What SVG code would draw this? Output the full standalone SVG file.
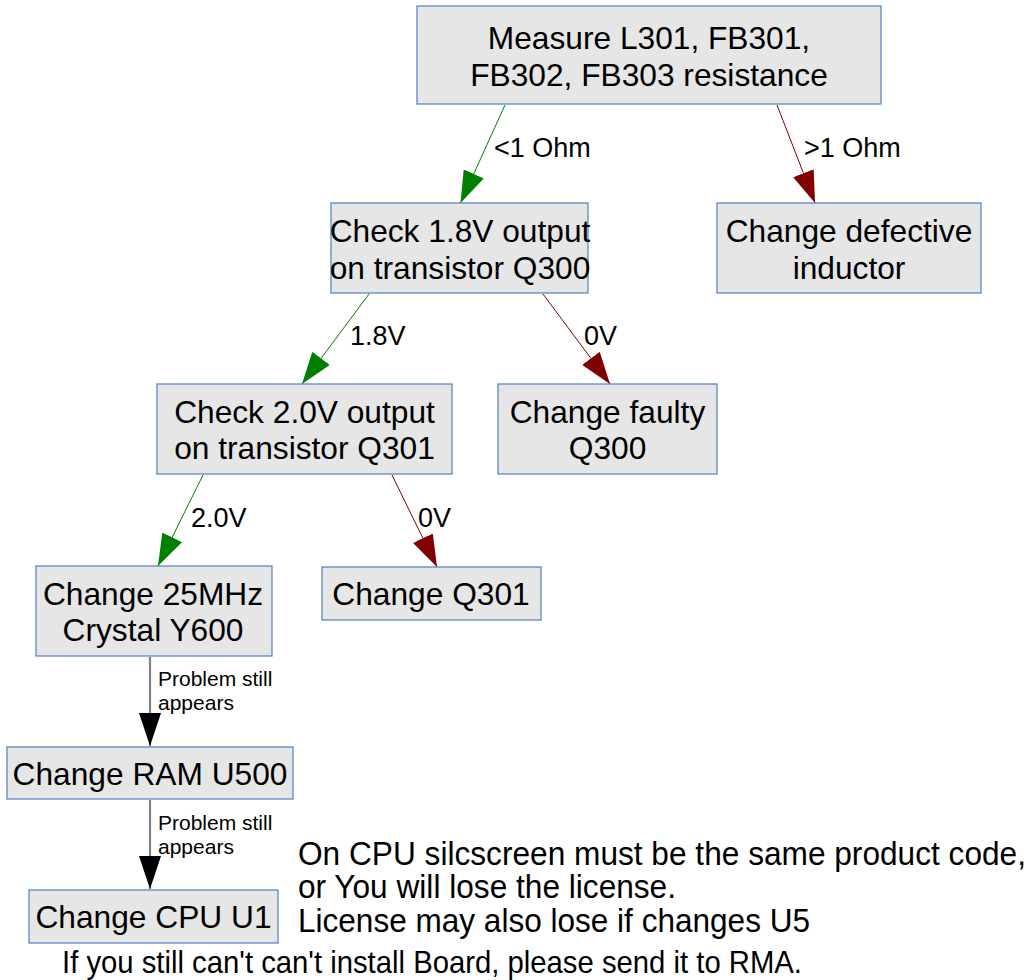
<svg xmlns="http://www.w3.org/2000/svg" width="1036" height="980" viewBox="0 0 1036 980">
<style>
.box{fill:#e6e6e6;stroke:#4f7fbe;stroke-width:1.2}
.t{font-family:"Liberation Sans",Arial,sans-serif;font-size:31.7px;fill:#000;text-anchor:middle}
.lbl{font-family:"Liberation Sans",Arial,sans-serif;font-size:27px;fill:#000}
.sl{font-family:"Liberation Sans",Arial,sans-serif;font-size:21px;fill:#000}
.note{font-family:"Liberation Sans",Arial,sans-serif;font-size:34px;fill:#000}
.note2{font-family:"Liberation Sans",Arial,sans-serif;font-size:32px;fill:#000}
.g{stroke:#008000;stroke-width:1;fill:none}
.r{stroke:#800000;stroke-width:1;fill:none}
.k{stroke:#808080;stroke-width:2.2;fill:none}
</style>
<defs>
<marker id="ag" markerUnits="userSpaceOnUse" viewBox="0 0 32 22" refX="32" refY="11" markerWidth="32" markerHeight="22" orient="auto"><path d="M0,0 L32,11 L0,22 z" fill="#008000"/></marker>
<marker id="ar" markerUnits="userSpaceOnUse" viewBox="0 0 32 22" refX="32" refY="11" markerWidth="32" markerHeight="22" orient="auto"><path d="M0,0 L32,11 L0,22 z" fill="#800000"/></marker>
<marker id="ak" markerUnits="userSpaceOnUse" viewBox="0 0 33 22" refX="33" refY="11" markerWidth="33" markerHeight="22" orient="auto"><path d="M0,0 L33,11 L0,22 z" fill="#000"/></marker>
</defs>
<rect width="1036" height="980" fill="#fff"/>
<g id="connectors">
<line class="g" x1="505" y1="105" x2="460.5" y2="203" marker-end="url(#ag)"/>
<text class="lbl" x="494" y="157">&lt;1 Ohm</text>
<line class="r" x1="777" y1="105" x2="815" y2="203" marker-end="url(#ar)"/>
<text class="lbl" x="804" y="157">&gt;1 Ohm</text>
<line class="g" x1="369" y1="294" x2="302" y2="384" marker-end="url(#ag)"/>
<text class="lbl" x="350" y="345">1.8V</text>
<line class="r" x1="543" y1="294" x2="610" y2="384" marker-end="url(#ar)"/>
<text class="lbl" x="584" y="345">0V</text>
<line class="g" x1="203" y1="475" x2="158" y2="566" marker-end="url(#ag)"/>
<text class="lbl" x="191" y="527">2.0V</text>
<line class="r" x1="392" y1="475" x2="437" y2="567" marker-end="url(#ar)"/>
<text class="lbl" x="418" y="527">0V</text>
<line class="k" x1="150" y1="657" x2="150" y2="746" marker-end="url(#ak)"/>
<text class="sl" x="158" y="686">Problem still</text>
<text class="sl" x="158" y="710">appears</text>
<line class="k" x1="150" y1="800" x2="150" y2="889" marker-end="url(#ak)"/>
<text class="sl" x="158" y="830">Problem still</text>
<text class="sl" x="158" y="854">appears</text>
</g>
<g id="n1"><rect class="box" x="417" y="6" width="464" height="98"/>
<text class="t" x="649" y="49">Measure L301, FB301,</text>
<text class="t" x="649" y="86">FB302, FB303 resistance</text></g>
<g id="n2"><rect class="box" x="331" y="203" width="257" height="90"/>
<text class="t" x="460" y="242">Check 1.8V output</text>
<text class="t" x="460" y="279">on transistor Q300</text></g>
<g id="n3"><rect class="box" x="717" y="203" width="264" height="90"/>
<text class="t" x="849" y="242">Change defective</text>
<text class="t" x="849" y="279">inductor</text></g>
<g id="n4"><rect class="box" x="157" y="384" width="295" height="90"/>
<text class="t" x="304.5" y="423">Check 2.0V output</text>
<text class="t" x="304.5" y="459">on transistor Q301</text></g>
<g id="n5"><rect class="box" x="498" y="384" width="219" height="90"/>
<text class="t" x="607.5" y="423">Change faulty</text>
<text class="t" x="607.5" y="459">Q300</text></g>
<g id="n6"><rect class="box" x="36" y="566" width="236" height="90"/>
<text class="t" x="153" y="605">Change 25MHz</text>
<text class="t" x="153" y="641">Crystal Y600</text></g>
<g id="n7"><rect class="box" x="322" y="567" width="219" height="53"/>
<text class="t" x="431" y="605">Change Q301</text></g>
<g id="n8"><rect class="box" x="7" y="747" width="286" height="52"/>
<text class="t" x="150" y="785">Change RAM U500</text></g>
<g id="n9"><rect class="box" x="29" y="890" width="249" height="53"/>
<text class="t" x="153.5" y="928">Change CPU U1</text></g>
<g id="notes">
<text class="note" x="298" y="865" textLength="728" lengthAdjust="spacingAndGlyphs">On CPU silcscreen must be the same product code,</text>
<text class="note" x="298" y="898" textLength="378" lengthAdjust="spacingAndGlyphs">or You will lose the license.</text>
<text class="note" x="298" y="932" textLength="512" lengthAdjust="spacingAndGlyphs">License may also lose if changes U5</text>
<text class="note2" x="62" y="973" textLength="740" lengthAdjust="spacingAndGlyphs">If you still can't can't install Board, please send it to RMA.</text>
</g>
</svg>
